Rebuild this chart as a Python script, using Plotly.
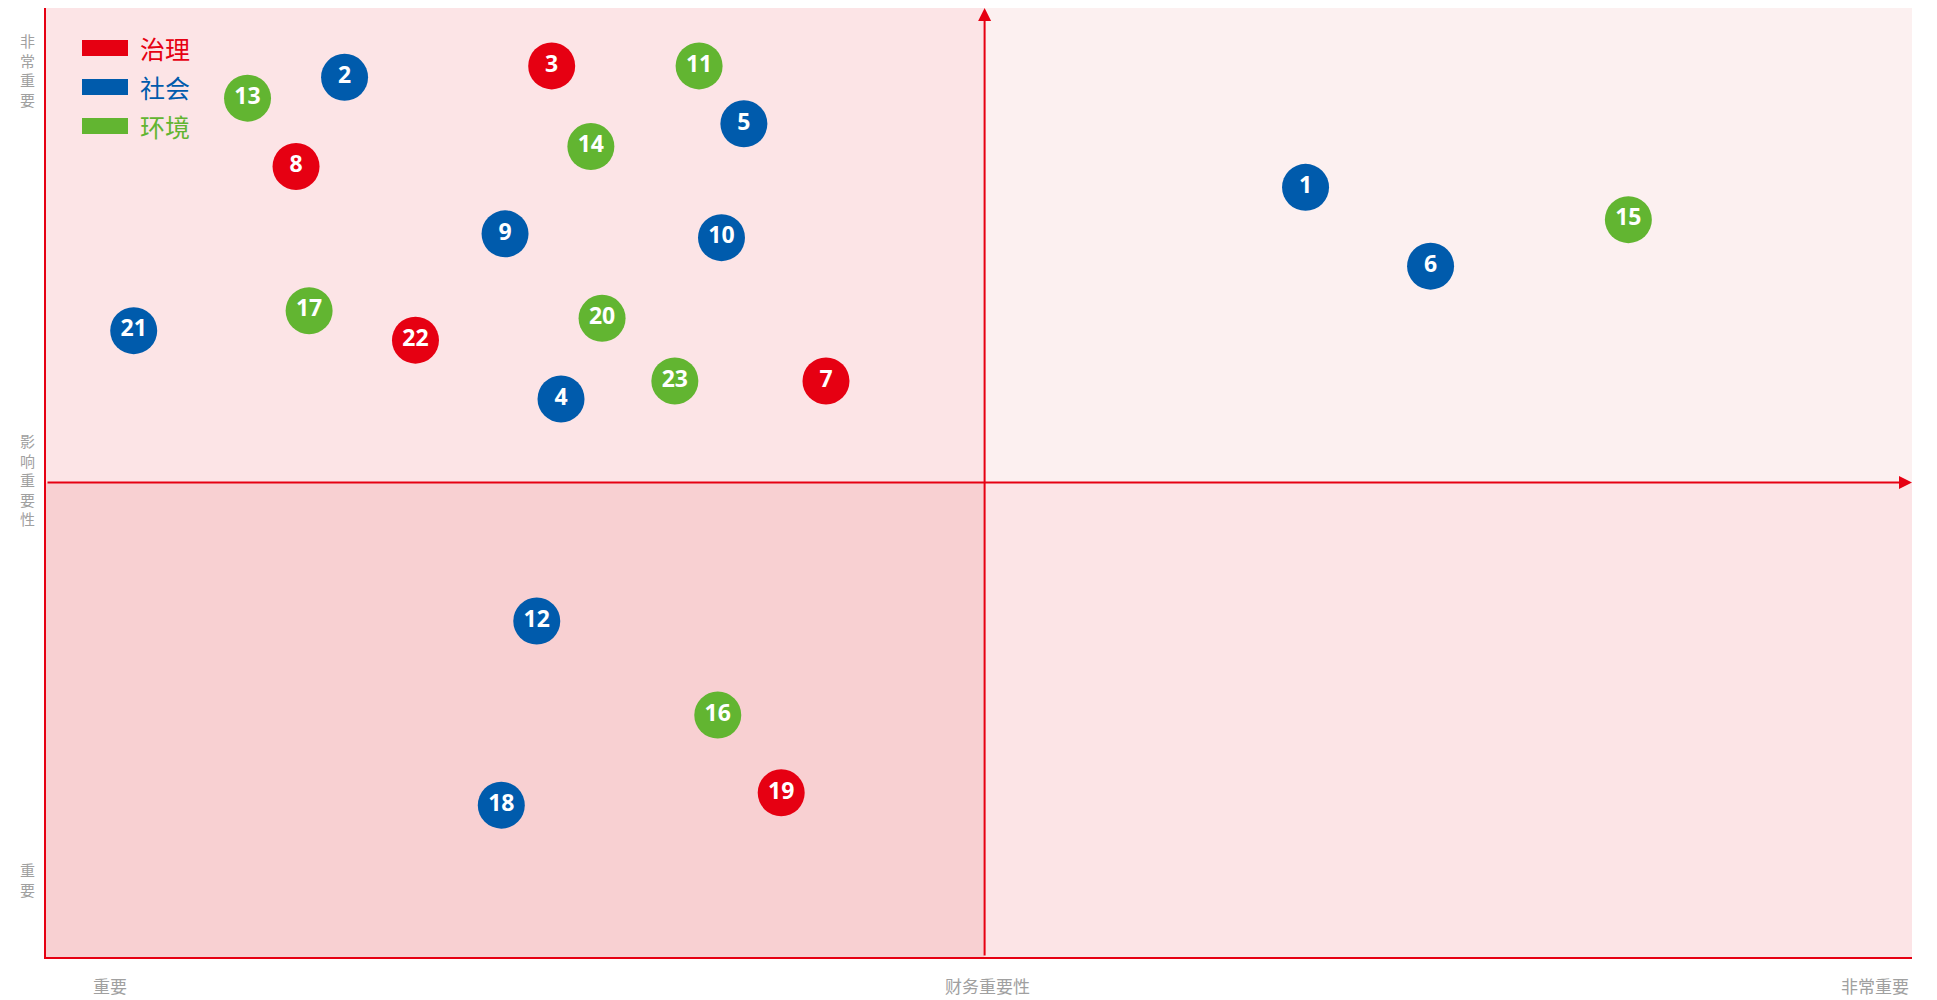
import plotly.graph_objects as go

ids = [str(i) for i in range(1, 24)]
categories = ["社会", "社会", "治理", "社会", "社会", "社会", "治理", "治理", "社会", "社会",
              "环境", "社会", "环境", "环境", "环境", "环境", "环境", "社会", "治理", "环境",
              "社会", "治理", "环境"]
financial = [6.75, 1.60, 2.71, 2.76, 3.74, 7.42, 4.18, 1.34, 2.46, 3.62,
             3.50, 2.63, 1.08, 2.92, 8.48, 3.60, 1.41, 2.44, 3.94, 2.98,
             0.47, 1.98, 3.37]
impact = [8.11, 9.27, 9.39, 5.88, 8.78, 7.28, 6.07, 8.33, 7.62, 7.58,
          9.39, 3.54, 9.05, 8.54, 7.77, 2.55, 6.81, 1.60, 1.73, 6.73,
          6.60, 6.50, 6.07]
legend_names = ["治理", "社会", "环境"]
colors = {"治理": "#e60012", "社会": "#005bac", "环境": "#62b531"}
y_label_top = "非常重要"
y_label_mid = "影响重要性"
y_label_bot = "重要"
x_labels = ["重要", "财务重要性", "非常重要"]
x_split, y_split = 5.03, 5.0

# page geometry (page has 8px body margin)
OFF = 8
W, H = 1937 - OFF, 1000 - OFF
PL, PR, PT, PB = 46, 1912, 8, 957  # plot edges in page px


def px_to_paper_x(px):
    return (px - PL) / (PR - PL)


def px_to_paper_y(py):
    return (PB - py) / (PB - PT)


fig = go.Figure()
for cat in legend_names:
    idx = [i for i, c in enumerate(categories) if c == cat]
    fig.add_trace(go.Scatter(
        x=[financial[i] for i in idx], y=[impact[i] for i in idx],
        text=[ids[i] for i in idx], mode="markers+text",
        marker=dict(size=47, color=colors[cat], line=dict(width=0)),
        textfont=dict(family="Noto Sans", size=23, color="white", weight="bold"),
        textposition="middle center", name=cat, showlegend=False,
        cliponaxis=False))

# quadrant backgrounds
quads = [(0, x_split, y_split, 10, "#fce4e6"), (x_split, 10, y_split, 10, "#fcf0f0"),
         (0, x_split, 0, y_split, "#f8d0d2"), (x_split, 10, 0, y_split, "#fce4e6")]
for x0, x1, y0, y1, c in quads:
    fig.add_shape(type="rect", x0=x0, x1=x1, y0=y0, y1=y1, fillcolor=c,
                  line=dict(width=0), layer="below")

# central arrows
fig.add_annotation(x=x_split, y=10, ax=x_split, ay=0, xref="x", yref="y", axref="x", ayref="y",
                   showarrow=True, arrowhead=2, arrowsize=1.3, arrowwidth=2,
                   arrowcolor="#e60012", text="")
fig.add_annotation(x=10, y=y_split, ax=0, ay=y_split, xref="x", yref="y", axref="x", ayref="y",
                   showarrow=True, arrowhead=2, arrowsize=1.3, arrowwidth=2,
                   arrowcolor="#e60012", text="")

# legend (drawn)
for k, name in enumerate(legend_names):
    yc = 48 + k * 39
    fig.add_shape(type="rect", xref="paper", yref="paper",
                  x0=px_to_paper_x(82), x1=px_to_paper_x(128),
                  y0=px_to_paper_y(yc + 8), y1=px_to_paper_y(yc - 8),
                  fillcolor=colors[name], line=dict(width=0))
    fig.add_annotation(xref="paper", yref="paper", x=px_to_paper_x(138), y=px_to_paper_y(yc),
                       text=name, showarrow=False, xanchor="left", yanchor="middle",
                       font=dict(family="Noto Sans CJK SC", size=25, color=colors[name]))

gray = "#a0a0a0"
# y-axis labels (vertical, stacked characters)
for label, top_px in [(y_label_top, 29), (y_label_mid, 429), (y_label_bot, 858)]:
    fig.add_annotation(xref="paper", yref="paper", x=px_to_paper_x(27),
                       y=px_to_paper_y(top_px), text="<br>".join(label), showarrow=False,
                       xanchor="center", yanchor="top", borderpad=0,
                       font=dict(family="Noto Sans CJK SC", size=15, color=gray))

# x-axis labels
for txt, pxc in zip(x_labels, [110, 988, 1875]):
    fig.add_annotation(xref="paper", yref="paper", x=px_to_paper_x(pxc), y=px_to_paper_y(985),
                       text=txt, showarrow=False, xanchor="center", yanchor="middle",
                       font=dict(family="Noto Sans CJK SC", size=17, color=gray))

fig.update_xaxes(range=[0, 10], showgrid=False, zeroline=False, showticklabels=False,
                 ticks="", showline=True, linecolor="#e60012", linewidth=2, mirror=False)
fig.update_yaxes(range=[0, 10], showgrid=False, zeroline=False, showticklabels=False,
                 ticks="", showline=True, linecolor="#e60012", linewidth=2, mirror=False)
fig.update_layout(width=W, height=H, plot_bgcolor="white", paper_bgcolor="white",
                  margin=dict(l=PL - OFF, r=W - (PR - OFF), t=PT - OFF, b=H - (PB - OFF)),
                  showlegend=False)

fig.write_html("out.html")
